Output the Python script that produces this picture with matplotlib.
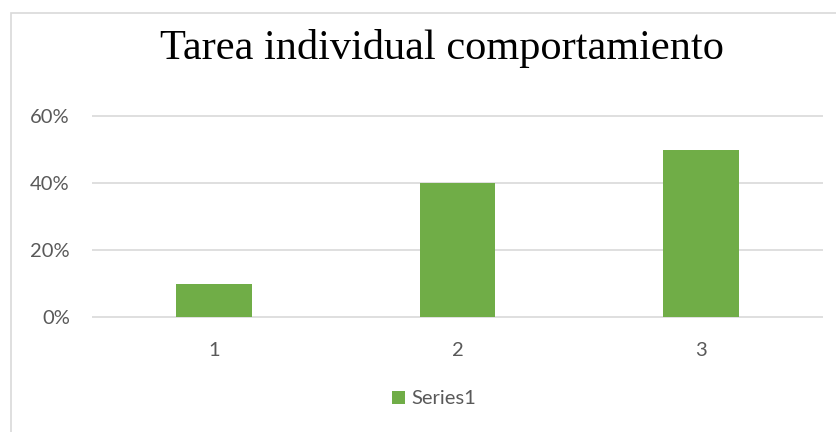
import numpy as np
import matplotlib
matplotlib.use('Agg')
import matplotlib.pyplot as plt
from matplotlib.patches import Rectangle
from matplotlib.ticker import PercentFormatter

categorias = ['1', '2', '3']
valores = [0.10, 0.40, 0.50]
serie = 'Series1'
titulo = 'Tarea individual comportamiento'
marcas_y = [0, 0.2, 0.4, 0.6]

verde = '#70AD47'
gris_texto = '#595959'
gris_linea = '#D9D9D9'

fig = plt.figure(figsize=(8.36, 4.32), dpi=100)
W, H = 836, 432

# borde del gráfico (cortado a la derecha y abajo)
fig.patches.append(Rectangle((11 / W, -0.1), 1.2, (H - 13) / H + 0.1,
                             transform=fig.transFigure, fill=False,
                             edgecolor=gris_linea, linewidth=1.2))

ax = fig.add_axes([92 / W, (H - 317) / H, (823 - 92) / W, (317 - 116) / H])
x = np.arange(len(categorias))
ax.bar(x, valores, width=0.31, color=verde, label=serie, zorder=3)

ax.set_xlim(-0.5, len(categorias) - 0.5)
ax.set_ylim(0, 0.6)
ax.set_yticks(marcas_y)
ax.yaxis.set_major_formatter(PercentFormatter(1.0, decimals=0))
ax.set_xticks(x)
ax.set_xticklabels(categorias)

# líneas de cuadrícula horizontales
ax.hlines(marcas_y, -0.5, len(categorias) - 0.5, color=gris_linea,
          linewidth=1.2, zorder=0, clip_on=False)
for s in ax.spines.values():
    s.set_visible(False)
ax.tick_params(length=0, colors=gris_texto, labelsize=14.5)
ax.tick_params(axis='y', pad=16)
ax.tick_params(axis='x', pad=18)
for lab in ax.get_xticklabels() + ax.get_yticklabels():
    lab.set_family(['Lato', 'DejaVu Sans'])

fig.text(442 / W, (H - 49) / H, titulo, ha='center', va='center',
         fontsize=30.5, family='Liberation Serif', color='black')

leg = fig.legend(loc='center', bbox_to_anchor=(434 / W, (H - 399) / H),
                 frameon=False, handlelength=0.65, handleheight=0.65,
                 handletextpad=0.35, prop={'family': 'Lato', 'size': 14.5})
for t in leg.get_texts():
    t.set_color(gris_texto)

fig.savefig('out.png', dpi=100)
